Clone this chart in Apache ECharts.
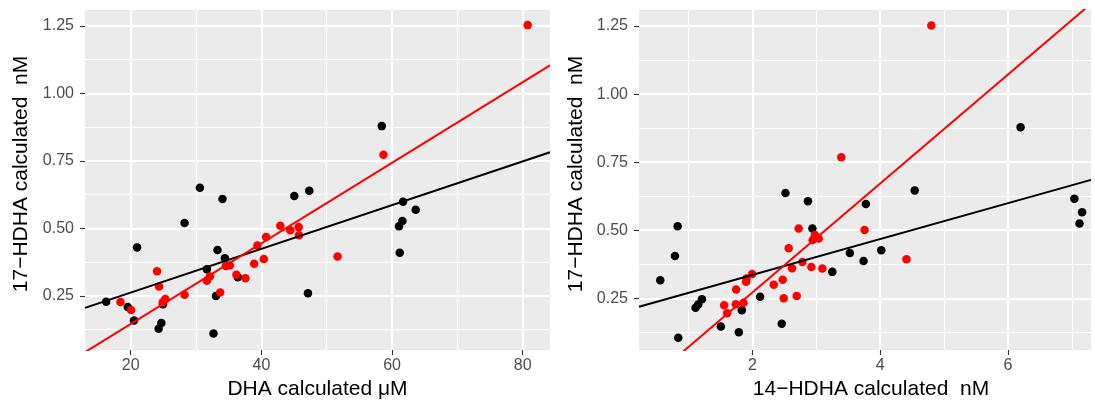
<!DOCTYPE html>
<html>
<head>
<meta charset="utf-8">
<script src="https://cdn.jsdelivr.net/npm/echarts@6/dist/echarts.min.js"></script>
<style>
html,body{margin:0;padding:0;background:#fff;}
#chart{width:1095px;height:401px;}
</style>
</head>
<body>
<div id="chart"></div>
<script>
// ---- data ----
const leftBlack = [[16.24,0.229],[19.54,0.209],[20.5,0.159],[20.97,0.430],[24.27,0.129],[24.69,0.150],[24.94,0.219],[28.24,0.520],[30.59,0.651],[31.66,0.349],[32.67,0.111],[33.04,0.250],[33.28,0.420],[34.05,0.609],[34.41,0.390],[36.40,0.319],[45.04,0.620],[47.33,0.640],[47.13,0.260],[58.43,0.879],[61.68,0.599],[63.62,0.569],[61.59,0.528],[61.07,0.508],[61.18,0.410]];
const leftRed = [[18.43,0.228],[20.06,0.198],[24.03,0.342],[24.34,0.285],[25.3,0.239],[24.9,0.227],[28.24,0.255],[31.66,0.306],[32.12,0.322],[33.69,0.263],[34.56,0.361],[35.17,0.363],[36.18,0.329],[37.56,0.316],[38.89,0.369],[39.39,0.437],[40.37,0.387],[40.72,0.468],[42.9,0.510],[44.43,0.493],[45.71,0.505],[45.76,0.475],[51.66,0.396],[58.69,0.773],[80.76,1.253]];
const rightBlack = [[0.556,0.316],[0.828,0.515],[0.786,0.405],[0.838,0.105],[1.109,0.215],[1.15,0.227],[1.208,0.246],[1.505,0.146],[1.786,0.125],[1.833,0.206],[2.119,0.256],[2.458,0.156],[2.516,0.637],[2.869,0.606],[2.938,0.506],[3.25,0.347],[3.525,0.416],[3.739,0.387],[3.775,0.596],[4.016,0.426],[4.54,0.646],[6.197,0.878],[7.04,0.616],[7.16,0.566],[7.12,0.525]];
const rightRed = [[1.556,0.224],[1.603,0.195],[1.739,0.228],[1.859,0.234],[1.744,0.282],[1.9,0.311],[1.906,0.323],[1.994,0.339],[2.333,0.300],[2.473,0.318],[2.489,0.250],[2.692,0.258],[2.567,0.434],[2.619,0.360],[2.723,0.506],[2.781,0.383],[2.922,0.365],[2.942,0.464],[2.978,0.482],[3.036,0.470],[3.094,0.359],[3.755,0.501],[4.411,0.393],[3.39,0.768],[4.80,1.252]];
// fitted lines (endpoints at the panel edges)
const leftBlackFit = [[13.0,0.206],[84.18,0.782]];
const leftRedFit = [[13.0,0.042],[84.18,1.104]];
const rightBlackFit = [[0.223,0.219],[7.30,0.685]];
const rightRedFit = [[0.223,-0.084],[7.30,1.332]];
// ticks
const yTicks = [0.25,0.5,0.75,1.0,1.25];
const yMinor = [0.125,0.375,0.625,0.875,1.125];
const xTicksLeft = [20,40,60,80];
const xMinorLeft = [30,50,70];
const xTicksRight = [2,4,6];
const xMinorRight = [1,3,5,7];
// ranges
const xRangeLeft = [13.0,84.18];
const xRangeRight = [0.223,7.30];
const yRangeLeft = [0.05,1.309];
const yRangeRight = [0.06,1.309];
// titles
const xTitleLeft = 'DHA calculated μM';
const xTitleRight = '14−HDHA calculated  nM';
const yTitle = '17−HDHA calculated  nM';

const FONT = "'Liberation Sans', Arial, Helvetica, sans-serif";
const gridL = {left:85, top:10, width:465, height:340};
const gridR = {left:639, top:10, width:452, height:340};

function majorAxis(gridIndex, range, ticks, fmt, isX) {
  return {
    type:'value', gridIndex, min:range[0], max:range[1],
    position: isX ? 'bottom' : 'left',
    axisLine:{show:false},
    axisTick:{show:true, length:5, customValues:ticks, lineStyle:{color:'#333333', width:1.1}},
    axisLabel:{show:true, customValues:ticks, formatter:fmt, color:'#4d4d4d', fontSize:16, fontFamily:FONT, margin: isX ? 8 : 11},
    splitLine:{show:true, lineStyle:{color:'#ffffff', width:2}},
    minorTick:{show:false}, minorSplitLine:{show:false}
  };
}
function minorAxis(gridIndex, range, ticks, isX) {
  return {
    type:'value', gridIndex, min:range[0], max:range[1],
    position: isX ? 'top' : 'right',
    axisLine:{show:false},
    axisTick:{show:false, customValues:ticks},
    axisLabel:{show:false, customValues:ticks},
    splitLine:{show:true, lineStyle:{color:'#ffffff', width:1}}
  };
}
const fmtY = v => v.toFixed(2);
const fmtX = v => String(v);

function scatter(xi, yi, data, color) {
  return {type:'scatter', xAxisIndex:xi, yAxisIndex:yi, data, symbolSize:8.5,
    itemStyle:{color, opacity:1}, silent:true, z:3};
}
function fit(xi, yi, data, color) {
  return {type:'line', xAxisIndex:xi, yAxisIndex:yi, data, showSymbol:false, symbol:'none',
    clip:true, lineStyle:{color, width:2}, silent:true, z:4};
}

const chart = echarts.init(document.getElementById('chart'), null, {renderer:'canvas'});
chart.setOption({
  animation:false,
  backgroundColor:'#ffffff',
  grid:[
    Object.assign({show:true, backgroundColor:'#ebebeb', borderWidth:0}, gridL),
    Object.assign({show:true, backgroundColor:'#ebebeb', borderWidth:0}, gridR)
  ],
  xAxis:[
    minorAxis(0, xRangeLeft, xMinorLeft, true),
    majorAxis(0, xRangeLeft, xTicksLeft, fmtX, true),
    minorAxis(1, xRangeRight, xMinorRight, true),
    majorAxis(1, xRangeRight, xTicksRight, fmtX, true)
  ],
  yAxis:[
    minorAxis(0, yRangeLeft, yMinor, false),
    majorAxis(0, yRangeLeft, yTicks, fmtY, false),
    minorAxis(1, yRangeRight, yMinor, false),
    majorAxis(1, yRangeRight, yTicks, fmtY, false)
  ],
  series:[
    scatter(1,1,leftBlack,'#000000'),
    fit(1,1,leftBlackFit,'#000000'),
    scatter(1,1,leftRed,'#ff0000'),
    fit(1,1,leftRedFit,'#ff0000'),
    scatter(3,3,rightBlack,'#000000'),
    fit(3,3,rightBlackFit,'#000000'),
    scatter(3,3,rightRed,'#ff0000'),
    fit(3,3,rightRedFit,'#ff0000')
  ],
  graphic:[
    {type:'text', x:317.5, y:389, style:{text:xTitleLeft, font:'21px '+FONT, fill:'#000', align:'center', verticalAlign:'middle'}},
    {type:'text', x:871, y:389, style:{text:xTitleRight, font:'21px '+FONT, fill:'#000', align:'center', verticalAlign:'middle'}},
    {type:'text', x:21, y:174, rotation:Math.PI/2, style:{text:yTitle, font:'21px '+FONT, fill:'#000', align:'center', verticalAlign:'middle'}},
    {type:'text', x:576, y:174, rotation:Math.PI/2, style:{text:yTitle, font:'21px '+FONT, fill:'#000', align:'center', verticalAlign:'middle'}}
  ]
});
</script>
</body>
</html>
